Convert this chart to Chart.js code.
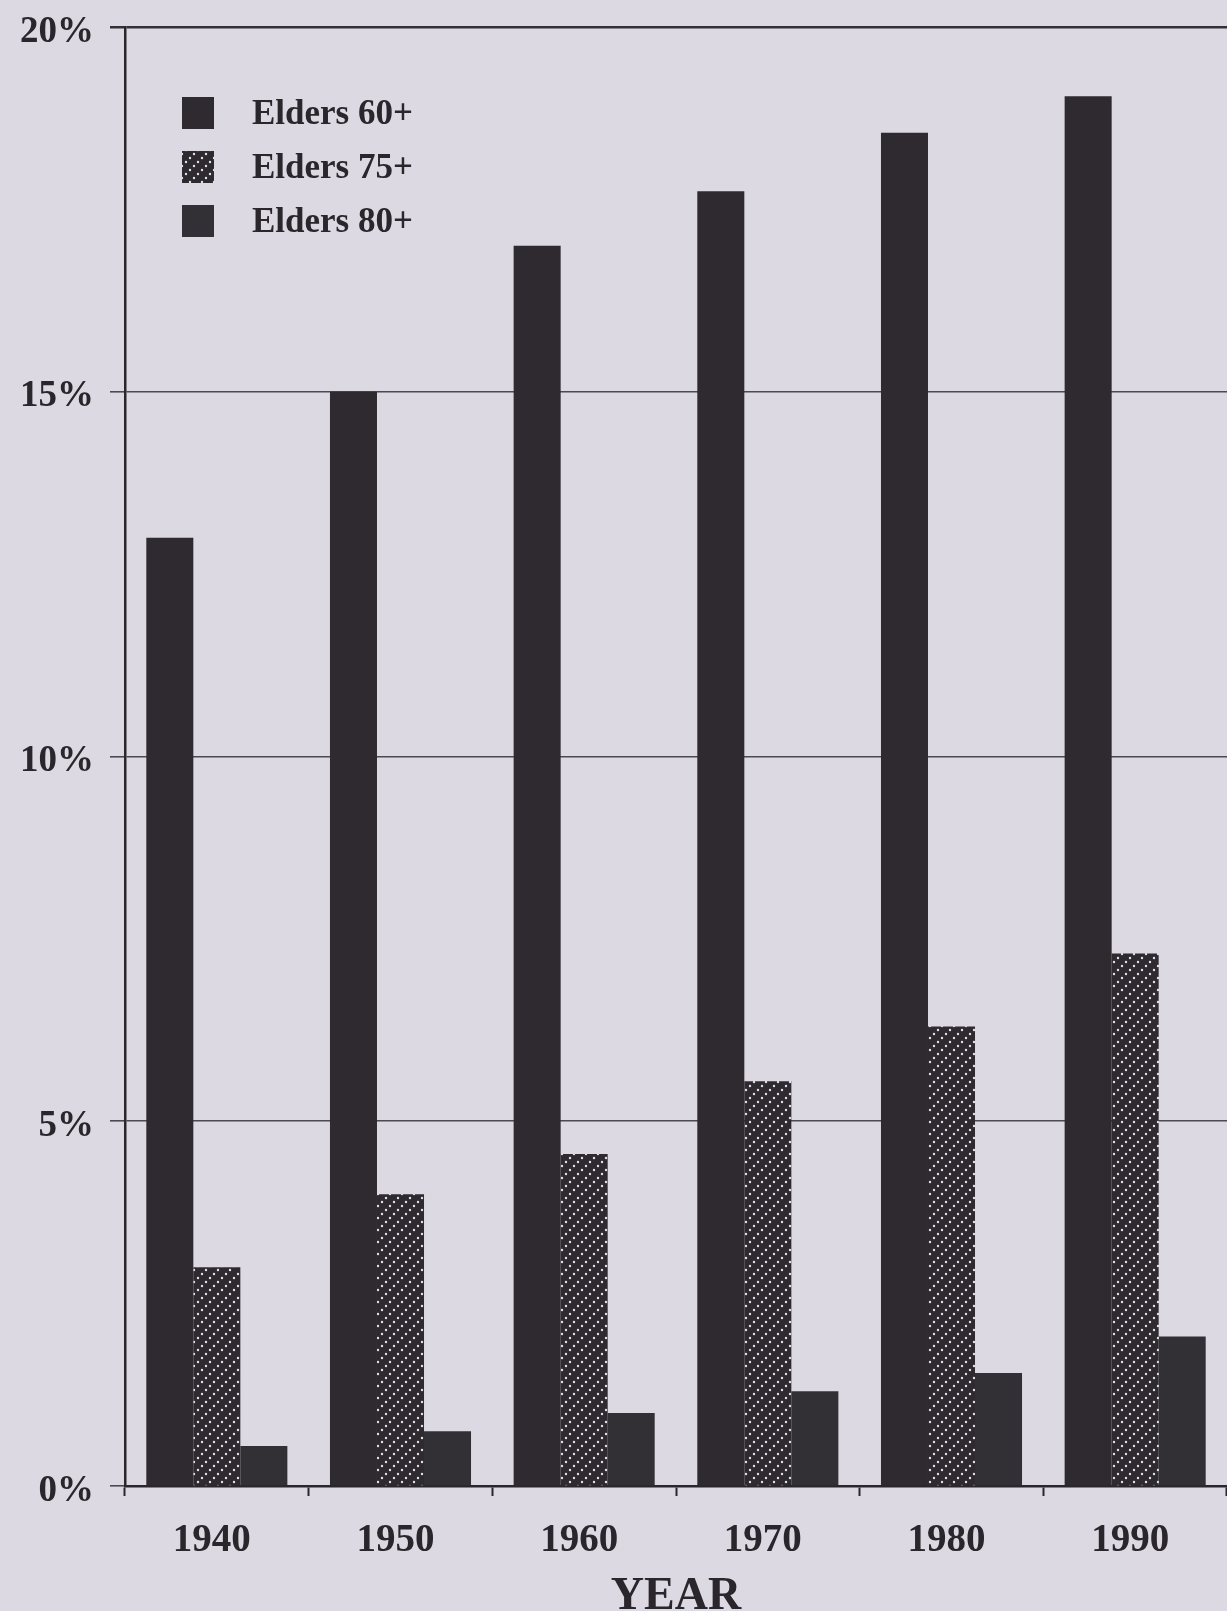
<!DOCTYPE html>
<html>
<head>
<meta charset="utf-8">
<title>Elders share of population</title>
<script src="https://cdn.jsdelivr.net/npm/chart.js@4/dist/chart.umd.min.js"></script>
<style>
  html, body { margin: 0; padding: 0; background: #dcd9e2; overflow: hidden; }
  canvas { display: block; }
</style>
</head>
<body>
<canvas id="eldersChart" width="1227" height="1611"></canvas>
<script>
// values (percent of population)
const years = ["1940", "1950", "1960", "1970", "1980", "1990"];
const elders60 = [13.0, 15.0, 17.0, 17.75, 18.55, 19.05];
const elders75 = [3.0, 4.0, 4.55, 5.55, 6.3, 7.3];
const elders80 = [0.55, 0.75, 1.0, 1.3, 1.55, 2.05];
const seriesNames = ["Elders 60+", "Elders 75+", "Elders 80+"];
const yTicks = [0, 5, 10, 15, 20];

const inkColor = "#2a262b";
const darkBar = "#2e2a2f";
const lightBar = "#333035";
const serif = "'Liberation Serif', 'DejaVu Serif', serif";

// dotted diagonal hatch used for the 75+ bars
function makeHatch() {
  const tile = document.createElement("canvas");
  tile.width = 12;
  tile.height = 12;
  const t = tile.getContext("2d");
  t.fillStyle = darkBar;
  t.fillRect(0, 0, tile.width, tile.height);
  t.fillStyle = "#e4e1ea";
  for (let i = 0; i < 3; i++) {
    const f = (i + 0.5) / 3;
    t.beginPath();
    t.arc(f * tile.width, tile.height - f * tile.height, 1.2, 0, Math.PI * 2);
    t.fill();
  }
  return t.createPattern(tile, "repeat");
}

// legend drawn inside the plot, top left
const insideLegend = {
  id: "insideLegend",
  afterDatasetsDraw(chart) {
    const ctx = chart.ctx;
    const boxSize = 32;
    const boxX = 182;
    const textX = 252;
    const firstTop = 97;
    const rowGap = 54;
    ctx.save();
    ctx.font = "bold 35px " + serif;
    ctx.textBaseline = "middle";
    chart.data.datasets.forEach((ds, i) => {
      const top = firstTop + i * rowGap;
      ctx.fillStyle = ds.backgroundColor;
      ctx.fillRect(boxX, top, boxSize, boxSize);
      ctx.fillStyle = inkColor;
      ctx.fillText(ds.label, textX, top + boxSize / 2 + 2);
    });
    ctx.restore();
  },
};

const ctx = document.getElementById("eldersChart").getContext("2d");
const hatch = makeHatch();

const barCommon = {
  borderWidth: 0,
  categoryPercentage: 0.768,
  barPercentage: 1.0,
};

new Chart(ctx, {
  type: "bar",
  data: {
    labels: years,
    datasets: [
      { label: seriesNames[0], data: elders60, backgroundColor: darkBar, ...barCommon },
      { label: seriesNames[1], data: elders75, backgroundColor: hatch, ...barCommon },
      { label: seriesNames[2], data: elders80, backgroundColor: lightBar, ...barCommon },
    ],
  },
  options: {
    responsive: false,
    animation: false,
    layout: { padding: { top: 27, right: 0, bottom: 0, left: 0 } },
    scales: {
      x: {
        afterFit: (scale) => {
          scale.height = 125;
          scale.paddingLeft = 0;
          scale.paddingRight = 0;
        },
        grid: {
          offset: true,
          drawOnChartArea: false,
          drawTicks: true,
          tickLength: 10,
          tickColor: inkColor,
          tickWidth: 2,
        },
        border: { display: true, color: inkColor, width: 2.5 },
        ticks: {
          color: inkColor,
          padding: 22,
          labelOffset: -5,
          font: { family: serif, size: 39, weight: "bold" },
        },
        title: {
          display: true,
          text: "YEAR",
          color: inkColor,
          font: { family: serif, size: 46, weight: "bold", lineHeight: 0.6 },
          padding: { top: 0, bottom: 0 },
        },
      },
      y: {
        min: 0,
        max: 20,
        afterFit: (scale) => {
          scale.width = 125;
          scale.paddingTop = 0;
          scale.paddingBottom = 0;
        },
        afterBuildTicks: (scale) => {
          scale.ticks = yTicks.map((v) => ({ value: v }));
        },
        grid: {
          color: (c) => (c.tick && c.tick.value === 20 ? "#333036" : "#4d4952"),
          lineWidth: (c) => (c.tick && c.tick.value === 20 ? 2.5 : 1.6),
          tickLength: 15,
          tickColor: (c) => (c.tick && c.tick.value === 20 ? "#333036" : "#4d4952"),
        },
        border: { display: true, color: inkColor, width: 2.5 },
        ticks: {
          color: inkColor,
          padding: 16,
          labelOffset: 5,
          font: { family: serif, size: 37, weight: "bold" },
          callback: (v) => v + "%",
        },
      },
    },
    plugins: {
      legend: { display: false },
      tooltip: { enabled: false },
      title: { display: false },
    },
  },
  plugins: [insideLegend],
});
</script>
</body>
</html>
